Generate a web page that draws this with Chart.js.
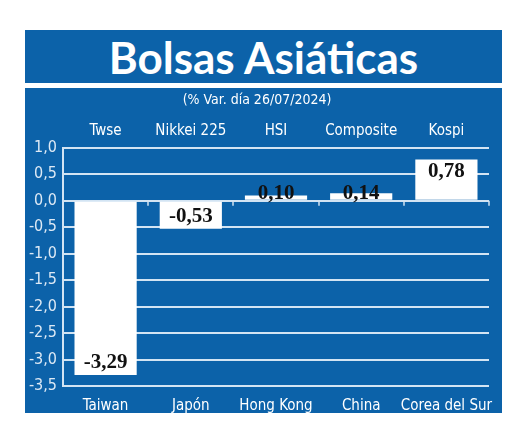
<!DOCTYPE html>
<html>
<head>
<meta charset="utf-8">
<script src="https://cdn.jsdelivr.net/npm/chart.js@4.4.1/dist/chart.umd.min.js"></script>
<style>
    body { margin: 0; background: #fff; width: 520px; height: 443px; position: relative; overflow: hidden; }
    .header {
        position: absolute; left: 25px; top: 30px; width: 477px; height: 53px;
        background: #0c62a9; color: #fff; text-align: center;
        font: bold 44px "Lato", "Open Sans", sans-serif; line-height: 55px;
    }
    .panel {
        position: absolute; left: 25px; top: 88px; width: 477px; height: 325px;
        background: #0c62a9;
    }
</style>
</head>
<body>
<div class="header">Bolsas Asiáticas</div>
<div class="panel"><canvas id="chart" width="477" height="325"></canvas></div>
<script>
// Data
const countries = ['Taiwan', 'Japón', 'Hong Kong', 'China', 'Corea del Sur'];
const indices = ['Twse', 'Nikkei 225', 'HSI', 'Composite', 'Kospi'];
const changes = [-3.29, -0.53, 0.10, 0.14, 0.78];
const subtitle = '(% Var. día 26/07/2024)';

const narrow = '"Liberation Sans Narrow", "DejaVu Sans Condensed", sans-serif';
const gridColor = '#d3e4f3';

const formatComma = (v, digits) => v.toFixed(digits).replace('.', ',');

// small tick marks on the zero line between categories
const zeroTicks = {
    id: 'zeroTicks',
    afterDraw(chart) {
        const ctx = chart.ctx;
        const y0 = chart.scales.y.getPixelForValue(0);
        const step = (chart.chartArea.right - chart.chartArea.left) / countries.length;
        ctx.save();
        ctx.strokeStyle = gridColor;
        ctx.lineWidth = 1.5;
        for (let i = 1; i <= countries.length; i++) {
            const px = Math.round(chart.chartArea.left + i * step);
            ctx.beginPath();
            ctx.moveTo(px, y0);
            ctx.lineTo(px, y0 + 5);
            ctx.stroke();
        }
        ctx.restore();
    }
};

// value labels inside the bars
const valueLabels = {
    id: 'valueLabels',
    afterDatasetsDraw(chart) {
        const ctx = chart.ctx;
        const y0 = chart.scales.y.getPixelForValue(0);
        const meta = chart.getDatasetMeta(0);
        ctx.save();
        ctx.font = 'bold 21px "Liberation Serif", "DejaVu Serif", serif';
        ctx.fillStyle = '#111';
        ctx.textAlign = 'center';
        meta.data.forEach((bar, i) => {
            const v = changes[i];
            const text = formatComma(v, 2);
            if (v < 0) {
                ctx.textBaseline = 'bottom';
                ctx.fillText(text, bar.x, bar.y - 2);
            } else {
                ctx.textBaseline = 'top';
                const top = Math.min(bar.y + 2, y0 - 18);
                ctx.fillText(text, bar.x, top);
            }
        });
        ctx.restore();
    }
};

new Chart(document.getElementById('chart'), {
    type: 'bar',
    data: {
        labels: countries,
        datasets: [{
            data: changes,
            backgroundColor: '#ffffff',
            borderWidth: 0,
            categoryPercentage: 1,
            barPercentage: 0.73
        }]
    },
    options: {
        responsive: false,
        animation: false,
        layout: { padding: { left: 0, right: 13, top: 0, bottom: 0 } },
        plugins: {
            legend: { display: false },
            tooltip: { enabled: false },
            title: {
                display: true,
                text: subtitle,
                color: '#ffffff',
                font: { family: narrow, size: 14, weight: 'normal' },
                padding: { top: 4, bottom: 0 }
            }
        },
        scales: {
            x: {
                position: 'bottom',
                grid: { display: false },
                border: { display: false },
                ticks: {
                    color: '#ffffff', font: { family: narrow, size: 15 }, padding: 3,
                    maxRotation: 0, minRotation: 0, autoSkip: false
                },
                afterFit(scale) { scale.height = 27; }
            },
            xTop: {
                position: 'top',
                labels: indices,
                grid: { display: false },
                border: { display: false },
                ticks: {
                    color: '#ffffff', font: { family: narrow, size: 15 }, padding: 0,
                    maxRotation: 0, minRotation: 0, autoSkip: false
                },
                afterFit(scale) { scale.height = 39; }
            },
            y: {
                min: -3.5,
                max: 1.0,
                grid: { color: gridColor, lineWidth: 2, drawTicks: false },
                border: { display: true, color: gridColor, width: 2 },
                ticks: {
                    stepSize: 0.5,
                    color: '#dde9f5',
                    padding: 6,
                    font: { family: narrow, size: 16 },
                    callback: v => formatComma(v, 1)
                },
                afterFit(scale) { scale.width = 38; }
            }
        }
    },
    plugins: [zeroTicks, valueLabels]
});
</script>
</body>
</html>
